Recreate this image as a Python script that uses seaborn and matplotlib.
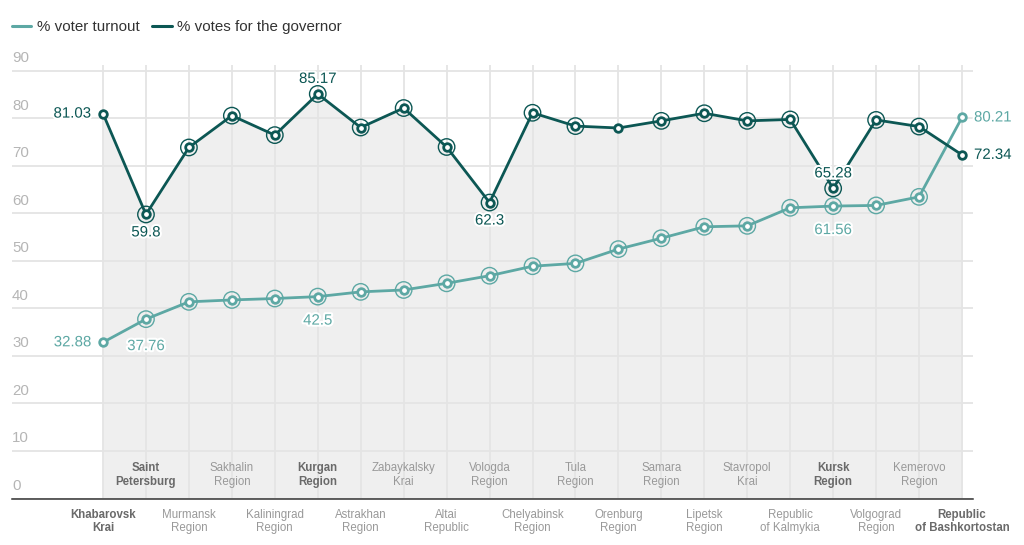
import numpy as np
import pandas as pd
import matplotlib
matplotlib.use("Agg")
import matplotlib.pyplot as plt
import matplotlib.patheffects as pe
from matplotlib.lines import Line2D
from matplotlib.transforms import ScaledTranslation
import seaborn as sns

# ── data ───────────────────────────────────────────────────────────────────
REGIONS = [
    "Khabarovsk\nKrai", "Saint\nPetersburg", "Murmansk\nRegion", "Sakhalin\nRegion",
    "Kaliningrad\nRegion", "Kurgan\nRegion", "Astrakhan\nRegion", "Zabaykalsky\nKrai",
    "Altai\nRepublic", "Vologda\nRegion", "Chelyabinsk\nRegion", "Tula\nRegion",
    "Orenburg\nRegion", "Samara\nRegion", "Lipetsk\nRegion", "Stavropol\nKrai",
    "Republic\nof Kalmykia", "Kursk\nRegion", "Volgograd\nRegion", "Kemerovo\nRegion",
    "Republic\nof Bashkortostan",
]
TURNOUT = [32.88, 37.76, 41.4, 41.8, 42.1, 42.5, 43.5, 43.9, 45.3, 46.9, 48.9,
           49.5, 52.5, 54.8, 57.2, 57.4, 61.2, 61.56, 61.7, 63.5, 80.21]
GOVERNOR = [81.03, 59.8, 73.9, 80.6, 76.5, 85.17, 78.1, 82.2, 74.0, 62.3, 81.2,
            78.4, 78.0, 79.5, 81.1, 79.5, 79.8, 65.28, 79.7, 78.3, 72.34]
Y_TICKS = [0, 10, 20, 30, 40, 50, 60, 70, 80, 90]
BOLD_REGIONS = ["Khabarovsk\nKrai", "Saint\nPetersburg", "Kurgan\nRegion",
                "Kursk\nRegion", "Republic\nof Bashkortostan"]

# labelled points: index -> (dx px, dy px, ha, va)
GOV_LABELS = {0: (-12, 0, "right", "center"), 1: (0, -11, "center", "top"),
              5: (0, 8, "center", "bottom"), 9: (0, -11, "center", "top"),
              17: (0, 8, "center", "bottom"), 20: (12, 0, "left", "center")}
TURN_LABELS = {0: (-12, 0, "right", "center"), 1: (0, -20, "center", "top"),
               5: (0, -17, "center", "top"), 17: (0, -17, "center", "top"),
               20: (12, 0, "left", "center")}
# points drawn with a single ring only
GOV_PLAIN = [0, 12, 20]
TURN_PLAIN = [0, 20]

C_TURN = "#5da8a4"
C_GOV = "#0c5754"
FONT = "Liberation Sans"

sns.set_theme(style="white")
plt.rcParams["font.family"] = [FONT, "DejaVu Sans"]

x = np.arange(len(REGIONS))
df = pd.DataFrame({
    "x": np.concatenate([x, x]),
    "value": TURNOUT + GOVERNOR,
    "series": ["% voter turnout"] * len(x) + ["% votes for the governor"] * len(x),
})

fig = plt.figure(figsize=(10.24, 5.45), dpi=100)
ax = fig.add_axes([12 / 1024, 46.5 / 545, 961 / 1024, 433.5 / 545])

ax.fill_between(x, 0, GOVERNOR, color="#efefef", lw=0, zorder=0.2)

sns.lineplot(data=df, x="x", y="value", hue="series",
             palette={"% voter turnout": C_TURN, "% votes for the governor": C_GOV},
             lw=2.0, legend=False, ax=ax, zorder=3)


def draw_markers(vals, color, plain):
    ring = [i for i in x if i not in plain]
    ax.scatter(ring, [vals[i] for i in ring], s=140, facecolor="none",
               edgecolor=color, lw=1.0, zorder=4)
    ax.scatter(x, vals, s=30, facecolor="white", edgecolor=color, lw=2.0, zorder=5)


draw_markers(TURNOUT, C_TURN, TURN_PLAIN)
draw_markers(GOVERNOR, C_GOV, GOV_PLAIN)

stroke = [pe.withStroke(linewidth=3, foreground="white")]
for labels, vals, color in [(GOV_LABELS, GOVERNOR, C_GOV), (TURN_LABELS, TURNOUT, C_TURN)]:
    for i, (dx, dy, ha, va) in labels.items():
        ax.annotate(f"{vals[i]:g}", (x[i], vals[i]), xytext=(dx * 0.72, dy * 0.72),
                    textcoords="offset points", ha=ha, va=va, fontsize=10.8,
                    color=color, path_effects=stroke, zorder=6)

# axes / grid
ax.set_xlim(-2.119, 20.256)
ax.set_ylim(0, 91.26)
ax.set_xlabel("")
ax.set_ylabel("")
for s in ["top", "right", "left"]:
    ax.spines[s].set_visible(False)
ax.spines["bottom"].set_color("#333333")
ax.spines["bottom"].set_linewidth(1.1)
ax.spines["bottom"].set_zorder(7)

ax.set_yticks(Y_TICKS)
ax.set_yticklabels([str(v) for v in Y_TICKS])
ax.tick_params(axis="y", length=0, pad=0, labelsize=10.8, labelcolor="#b5b5b5")
for lab in ax.get_yticklabels():
    lab.set_horizontalalignment("left")
    lab.set_verticalalignment("bottom")
    lab.set_transform(lab.get_transform() + ScaledTranslation(0, 4 / 72, fig.dpi_scale_trans))
ax.grid(axis="y", color="#e4e4e4", lw=1.3)

# vertical grid only over categories
ax.vlines(x, 0, 91.26, color="#e4e4e4", lw=1.3, zorder=0.5)

even = x[::2]
odd = x[1::2]
ax.set_xticks(even)
ax.set_xticklabels([REGIONS[i] for i in even])
ax.set_xticks(odd, minor=True)
ax.set_xticklabels([REGIONS[i] for i in odd], minor=True)
ax.tick_params(axis="x", which="major", direction="out", length=3.5, width=1.1,
               color="#333333", pad=3.8, labelsize=8.3, labelcolor="#999999")
ax.tick_params(axis="x", which="minor", direction="in", length=3.5, width=1.1,
               color="#333333", pad=-26, labelsize=8.3, labelcolor="#999999")
for lab in ax.get_xticklabels() + ax.get_xticklabels(minor=True):
    if lab.get_text() in BOLD_REGIONS:
        lab.set_fontweight("bold")
        lab.set_color("#6a6a6a")

handles = [Line2D([], [], color=C_TURN, lw=2.2), Line2D([], [], color=C_GOV, lw=2.2)]
fig.legend(handles, ["% voter turnout", "% votes for the governor"],
           loc="center left", bbox_to_anchor=(12 / 1024, 1 - 27 / 545),
           ncol=2, frameon=False, fontsize=10.9, handlelength=1.28,
           handletextpad=0.35, columnspacing=0.85, borderpad=0, borderaxespad=0,
           labelcolor="#333333")

fig.savefig("out.png", dpi=100, facecolor="white")
